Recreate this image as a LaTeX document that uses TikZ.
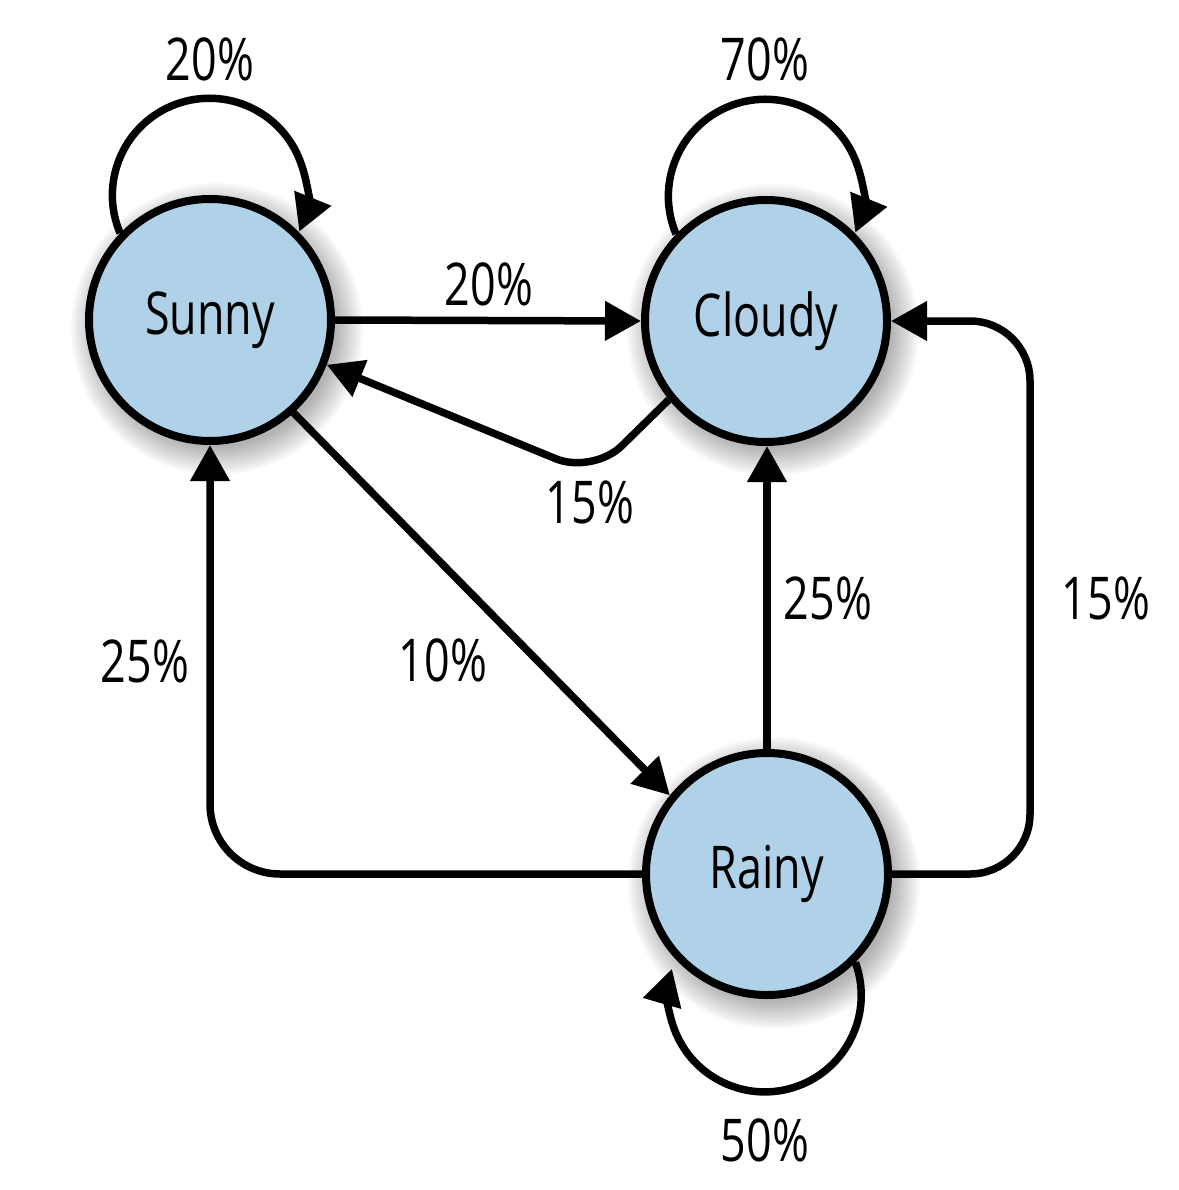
\documentclass[tikz,border=0pt]{standalone}
\usepackage{fontspec}
\setsansfont[FakeStretch=0.76]{Open Sans}
\usetikzlibrary{arrows.meta}
\definecolor{nodeblue}{RGB}{176,210,232}
\begin{document}
\begin{tikzpicture}[x=1pt,y=1pt,
  state/.style={circle, draw=black, line width=8pt, fill=nodeblue, minimum size=242pt, inner sep=0pt, font=\sffamily\fontsize{59}{60}\selectfont},
  lbl/.style={font=\sffamily\fontsize{59}{60}\selectfont, inner sep=0pt},
  edge/.style={line width=7.5pt, -{Triangle[length=36pt,width=38pt]}},
  link/.style={line width=7.5pt}
]
\useasboundingbox (0,0) rectangle (1178,-1190);
% soft shadows
\foreach \cx/\cy in {210/-320, 766/-321, 767/-874}{
  \foreach \r in {118,120,...,146}{
    \fill[black, opacity=0.024] (\cx+7,\cy-9) circle[radius=\r pt];
  }
}
\node[state] (sunny) at (210,-320) {Sunny};
\node[state] (cloudy) at (766,-321) {Cloudy};
\node[state] (rainy) at (767,-874) {Rainy};

% self loops
\draw[edge] (sunny.136) arc[start angle=203, end angle=-22, radius=97pt];
\draw[edge] (cloudy.136) arc[start angle=203, end angle=-22, radius=97pt];
\draw[edge] (rainy.-45) arc[start angle=20, end angle=-196, radius=96.5pt];

% transitions
\draw[edge] (sunny.east) -- (cloudy.west);
\coordinate (cs) at (593,-474);
\draw[edge, rounded corners=40pt] (cloudy.219) -- (cs) -- (sunny.-21);
\draw[edge] (sunny.-48) -- (rainy.141);
\draw[edge] (rainy.north) -- (rainy.north |- cloudy.south);
\coordinate (rs) at (210,-874);
\draw[edge, rounded corners=70pt] (rainy.west) -- (rs) -- (sunny.south);
\coordinate (rc1) at (1030,-874);
\coordinate (rc2) at (1030,-321);
\draw[edge, rounded corners=60pt] (rainy.east) -- (rc1) -- (rc2) -- (cloudy.east);

% labels
\node[lbl] (l1) at (210,-59) {20\%};
\node[lbl] (l2) at (765,-59) {70\%};
\node[lbl] (l3) at (489,-284) {20\%};
\node[lbl] (l4) at (590,-502) {15\%};
\node[lbl] (l5) at (443,-660) {10\%};
\node[lbl] (l6) at (145,-661) {25\%};
\node[lbl] (l7) at (828,-598) {25\%};
\node[lbl] (l8) at (1106,-598) {15\%};
\node[lbl] (l9) at (765,-1140) {50\%};
\end{tikzpicture}
\end{document}
